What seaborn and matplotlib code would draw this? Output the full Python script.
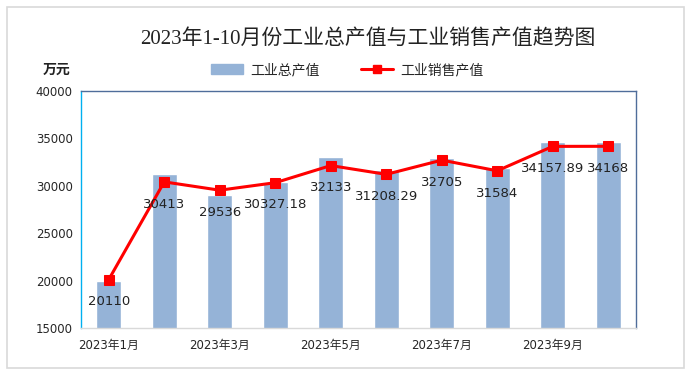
import numpy as np
import pandas as pd
import matplotlib
matplotlib.use("Agg")
import matplotlib.pyplot as plt
import seaborn as sns
from matplotlib.patches import Rectangle
from matplotlib.lines import Line2D

# data
months = ['2023年1月', '2023年2月', '2023年3月', '2023年4月', '2023年5月',
          '2023年6月', '2023年7月', '2023年8月', '2023年9月', '2023年10月']
total_output = [19950, 31200, 29050, 30430, 33050, 31650, 32950, 31900, 34620, 34620]
sales_output = [20110, 30413, 29536, 30327.18, 32133, 31208.29, 32705, 31584, 34157.89, 34168]
sales_labels = ['20110', '30413', '29536', '30327.18', '32133',
                '31208.29', '32705', '31584', '34157.89', '34168']
y_ticks = [15000, 20000, 25000, 30000, 35000, 40000]

sns.set_theme(style="white")
plt.rcParams['font.family'] = ['DejaVu Sans', 'Noto Sans CJK SC']

bar_color = '#95B3D7'
line_color = '#FF0000'

df = pd.DataFrame({'month': months, 'total': total_output, 'sales': sales_output})
df['pos'] = np.arange(len(months))

fig = plt.figure(figsize=(6.91, 3.76), dpi=100)
ax = fig.add_axes([81 / 691, 48 / 376, 555 / 691, 237 / 376])

sns.barplot(data=df, x='month', y='total', color=bar_color, width=0.45,
            saturation=1, ax=ax, zorder=2)
sns.lineplot(data=df, x='pos', y='sales', color=line_color, linewidth=2.2,
             marker='s', markersize=7, markeredgecolor=line_color, ax=ax, zorder=3)

for i, (v, lab) in enumerate(zip(sales_output, sales_labels)):
    ax.annotate(lab, (i, v), xytext=(0, -16), textcoords='offset points',
                ha='center', va='center', fontsize=9.5, color='#222222', zorder=4)

ax.set_xlim(-0.5, len(months) - 0.5)
ax.set_ylim(15000, 40000)
ax.set_yticks(y_ticks)
ax.set_yticklabels([str(t) for t in y_ticks], fontsize=8.5)

# category boundaries as tick marks, labels on every other month
ax.set_xticks(np.arange(-0.5, len(months), 2))
ax.set_xticklabels([])
ax.set_xticks(np.arange(0, len(months), 2), minor=True)
ax.set_xticklabels(months[::2], minor=True, fontsize=8.5)
ax.tick_params(axis='x', which='major', length=4, width=0.8, color='#BFBFBF', direction='out')
ax.tick_params(axis='x', which='minor', length=0, pad=8)
ax.tick_params(axis='y', length=4, width=0.8, color='#00B0F0', direction='out', pad=2)
ax.set_xlabel('')
ax.set_ylabel('')

ax.spines['left'].set_color('#00B0F0')
ax.spines['bottom'].set_color('#D9D9D9')
ax.spines['top'].set_color('#4F6D9A')
ax.spines['right'].set_color('#4F6D9A')
for s in ax.spines.values():
    s.set_linewidth(1.0)
    s.set_visible(True)

fig.text(368 / 691, 1 - 39 / 376, '2023年1-10月份工业总产值与工业销售产值趋势图',
         ha='center', va='center', fontsize=15, color='#222222',
         family=['Liberation Serif', 'Noto Sans CJK SC'])
fig.text(57 / 691, 1 - 70 / 376, '万元', ha='center', va='center', fontsize=10,
         fontweight='bold', color='#222222')

handles = [Rectangle((0, 0), 1, 1, color=bar_color),
           Line2D([0], [0], color=line_color, linewidth=2.2, marker='s', markersize=6)]
fig.legend(handles, ['工业总产值', '工业销售产值'], loc='center',
           bbox_to_anchor=(347 / 691, 1 - 70 / 376), ncol=2, frameon=False,
           fontsize=10, handlelength=2.3, columnspacing=3.0, handletextpad=0.5)

fig.add_artist(Rectangle((7 / 691, 8 / 376), 677 / 691, 361 / 376, transform=fig.transFigure,
                         fill=False, edgecolor='#D9D9D9', linewidth=1.2))

fig.savefig('out.png', dpi=100)
